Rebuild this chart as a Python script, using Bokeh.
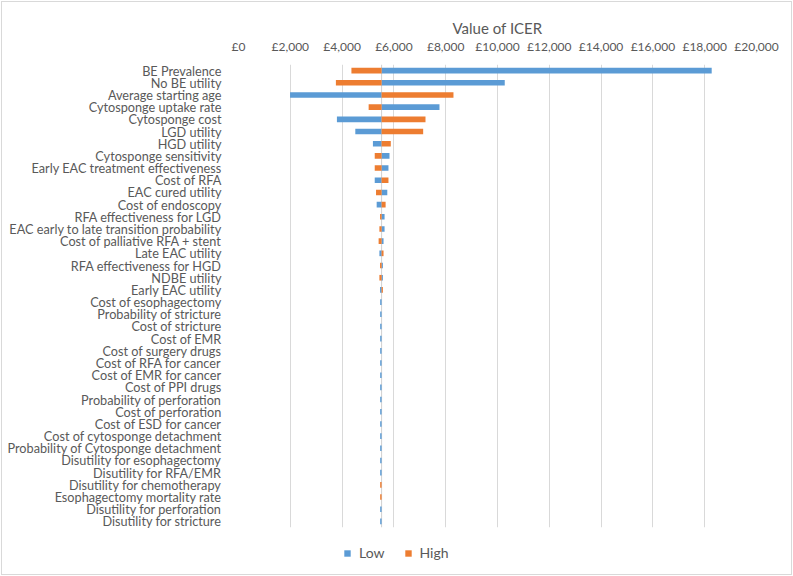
from bokeh.plotting import figure
from bokeh.layouts import column
from bokeh.models import (Range1d, FactorRange, FixedTicker, Span, Legend, LegendItem,
                          ColumnDataSource)
from bokeh.embed import file_html
from bokeh.resources import INLINE

# ---- data ----
categories = [
    "BE Prevalence", "No BE utility", "Average starting age", "Cytosponge uptake rate",
    "Cytosponge cost", "LGD utility", "HGD utility", "Cytosponge sensitivity",
    "Early EAC treatment effectiveness", "Cost of RFA", "EAC cured utility",
    "Cost of endoscopy", "RFA effectiveness for LGD",
    "EAC early to late transition probability", "Cost of palliative RFA + stent",
    "Late EAC utility", "RFA effectiveness for HGD", "NDBE utility", "Early EAC utility",
    "Cost of esophagectomy", "Probability of stricture", "Cost of stricture", "Cost of EMR",
    "Cost of surgery drugs", "Cost of RFA for cancer", "Cost of EMR for cancer",
    "Cost of PPI drugs", "Probability of perforation", "Cost of perforation",
    "Cost of ESD for cancer", "Cost of cytosponge detachment",
    "Probability of Cytosponge detachment", "Disutility for esophagectomy",
    "Disutility for RFA/EMR", "Disutility for chemotherapy", "Esophagectomy mortality rate",
    "Disutility for perforation", "Disutility for stricture",
]
base_icer = 5525
low_values = [
    18270, 10280, 1990, 7760, 3800, 4510, 5190, 5830, 5790, 5260, 5745, 5335, 5640,
    5640, 5600, 5440, 5575, 5575, 5465,
    5470, 5470, 5470, 5470, 5470, 5470, 5470, 5470, 5470, 5470, 5470, 5470, 5470,
    5470, 5470, 5525, 5525, 5470, 5470,
]
high_values = [
    4360, 3760, 8300, 5025, 7220, 7130, 5880, 5260, 5260, 5790, 5310, 5680, 5465,
    5440, 5410, 5600, 5465, 5440, 5575,
    5525, 5525, 5525, 5525, 5525, 5525, 5525, 5525, 5525, 5525, 5525, 5525, 5525,
    5525, 5525, 5470, 5470, 5525, 5525,
]
tick_values = [0, 2000, 4000, 6000, 8000, 10000, 12000, 14000, 16000, 18000, 20000]
tick_labels = ["£0", "£2,000", "£4,000", "£6,000", "£8,000", "£10,000", "£12,000",
               "£14,000", "£16,000", "£18,000", "£20,000"]
series_names = ["Low", "High"]
series_colors = ["#5B9BD5", "#ED7D31"]

FONT = "Lato"
GREY = "#595959"
FRAME = "#d9d9d9"

src = ColumnDataSource(dict(cat=categories, low=low_values, high=high_values,
                            base=[base_icer] * len(categories)))

p = figure(width=793, height=536, output_backend="svg", toolbar_location=None,
           x_range=Range1d(0, 20000),
           y_range=FactorRange(factors=list(reversed(categories))),
           x_axis_location="above",
           min_border_left=238, min_border_right=37, min_border_top=64,
           min_border_bottom=9)
p.outline_line_color = None
p.background_fill_color = None
p.border_fill_color = None
p.styles = {"box-shadow": (f"inset 0 1px 0 0 #fff, inset 1px 0 0 0 #fff, inset -1px 0 0 0 #fff, "
                           f"inset 0 2px 0 0 {FRAME}, inset 2px 0 0 0 {FRAME}, "
                           f"inset -2px 0 0 0 {FRAME}")}

r_low = p.hbar(y="cat", left="base", right="low", height=0.46, source=src,
               fill_color=series_colors[0], line_color=None)
r_high = p.hbar(y="cat", left="base", right="high", height=0.46, source=src,
                fill_color=series_colors[1], line_color=None)

p.add_layout(Span(location=base_icer, dimension="height", line_color="#d0d0d0",
                  line_width=1, level="underlay"))

# x axis (top)
xa = p.xaxis[0]
xa.ticker = FixedTicker(ticks=tick_values)
xa.major_label_overrides = {v: s for v, s in zip(tick_values, tick_labels)}
xa.axis_label = "Value of ICER"
xa.axis_label_text_font = FONT
xa.axis_label_text_font_size = "15px"
xa.axis_label_text_font_style = "normal"
xa.axis_label_text_color = GREY
xa.axis_label_standoff = -1
xa.major_label_text_font = FONT
xa.major_label_text_font_size = "12px"
xa.major_label_text_color = GREY
xa.major_label_standoff = 5
xa.axis_line_color = None
xa.major_tick_line_color = None
xa.minor_tick_line_color = None

# y axis
ya = p.yaxis[0]
ya.major_label_text_font = FONT
ya.major_label_text_font_size = "12.7px"
ya.major_label_text_color = GREY
ya.major_label_standoff = 11
ya.axis_line_color = None
ya.major_tick_line_color = None
ya.minor_tick_line_color = None

p.xgrid.grid_line_color = "#d9d9d9"
p.xgrid.ticker = FixedTicker(ticks=tick_values)
p.ygrid.grid_line_color = None

# legend strip below the chart (its swatches are off-view stand-ins)
pl = figure(width=793, height=40, output_backend="svg", toolbar_location=None,
            x_range=Range1d(0, 1), y_range=Range1d(0, 1),
            min_border_left=0, min_border_right=0, min_border_top=0, min_border_bottom=0)
pl.axis.visible = False
pl.grid.visible = False
pl.outline_line_color = None
pl.background_fill_color = None
pl.border_fill_color = None
pl.styles = {"box-shadow": (f"inset 0 -1px 0 0 #fff, inset 1px 0 0 0 #fff, inset -1px 0 0 0 #fff, "
                            f"inset 0 -2px 0 0 {FRAME}, inset 2px 0 0 0 {FRAME}, "
                            f"inset -2px 0 0 0 {FRAME}")}
leg_low = pl.rect(x=[-5], y=[-5], width=1, height=1, fill_color=series_colors[0],
                  line_color=None)
leg_high = pl.rect(x=[-5], y=[-5], width=1, height=1, fill_color=series_colors[1],
                   line_color=None)
legend = Legend(items=[LegendItem(label=series_names[0], renderers=[leg_low]),
                       LegendItem(label=series_names[1], renderers=[leg_high])],
                orientation="horizontal", location=(105, 15),
                glyph_width=8, glyph_height=8, label_standoff=8, spacing=19,
                padding=0, margin=0, border_line_color=None,
                background_fill_alpha=0,
                label_text_font=FONT, label_text_font_size="14px",
                label_text_color=GREY, label_height=14)
pl.add_layout(legend, "center")

layout = column(p, pl, spacing=0)

open("out.html", "w").write(file_html(layout, INLINE))
